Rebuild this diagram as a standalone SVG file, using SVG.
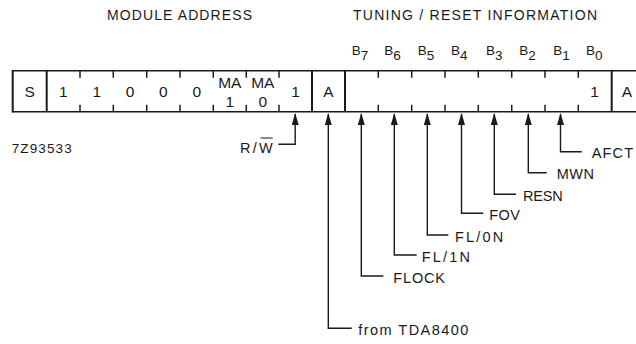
<svg xmlns="http://www.w3.org/2000/svg" width="636" height="344" viewBox="0 0 636 344">
<style>
text{font-family:"Liberation Sans",Arial,sans-serif;fill:#1a1a1a}
.hdr{font-size:14px}
.cell{font-size:15.5px;text-anchor:middle}
.bl{font-size:13.5px}
.code{font-size:13.5px}
.lbl{font-size:14.5px}
.ln{stroke:#1a1a1a;stroke-width:1.6;fill:none}
.div{stroke:#1a1a1a;stroke-width:2;fill:none}
.tk{stroke:#1a1a1a;stroke-width:1.5;fill:none}
.con{stroke:#1a1a1a;stroke-width:1.4;fill:none;marker-end:url(#ah)}
</style>
<defs>
<marker id="ah" viewBox="0 0 12 7" refX="11" refY="3.5" markerWidth="12" markerHeight="7" markerUnits="userSpaceOnUse" orient="auto">
<path d="M0,0 L12,3.5 L0,7 Z" fill="#1a1a1a"/>
</marker>
</defs>
<rect width="636" height="344" fill="#fff"/>

<g id="headers">
<text class="hdr" x="107" y="19.5" textLength="145" lengthAdjust="spacing">MODULE ADDRESS</text>
<text class="hdr" x="353" y="19.5" textLength="244" lengthAdjust="spacing">TUNING / RESET INFORMATION</text>
</g>

<g id="bit-labels">
<text class="bl" x="351.7" y="54.5">B<tspan dy="5.5">7</tspan></text>
<text class="bl" x="384.3" y="54.5">B<tspan dy="5.5">6</tspan></text>
<text class="bl" x="417.7" y="54.5">B<tspan dy="5.5">5</tspan></text>
<text class="bl" x="451" y="54.5">B<tspan dy="5.5">4</tspan></text>
<text class="bl" x="486" y="54.5">B<tspan dy="5.5">3</tspan></text>
<text class="bl" x="519.3" y="54.5">B<tspan dy="5.5">2</tspan></text>
<text class="bl" x="553.3" y="54.5">B<tspan dy="5.5">1</tspan></text>
<text class="bl" x="586" y="54.5">B<tspan dy="5.5">0</tspan></text>
</g>

<g id="register">
<path class="ln" d="M12.7,70.7 H636 M12.7,111.7 H636"/>
<path class="div" d="M12.7,70 V112.4 M46.7,70.7 V111.7 M312,70.7 V111.7 M345,70.7 V111.7 M611.7,70.7 V111.7"/>
<path class="tk" d="M80,70.7 v7 M80,111.7 v-7 M113.3,70.7 v7 M113.3,111.7 v-7 M146.7,70.7 v7 M146.7,111.7 v-7 M180,70.7 v7 M180,111.7 v-7 M213.3,70.7 v7 M213.3,111.7 v-7 M246.3,70.7 v7 M246.3,111.7 v-7 M279,70.7 v7 M279,111.7 v-7 M378.3,70.7 v7 M378.3,111.7 v-7 M411.7,70.7 v7 M411.7,111.7 v-7 M445,70.7 v7 M445,111.7 v-7 M478.3,70.7 v7 M478.3,111.7 v-7 M511.7,70.7 v7 M511.7,111.7 v-7 M545,70.7 v7 M545,111.7 v-7 M578.3,70.7 v7 M578.3,111.7 v-7"/>
<text class="cell" x="29.7" y="97.3">S</text>
<text class="cell" x="63.3" y="97.3">1</text>
<text class="cell" x="96.7" y="97.3">1</text>
<text class="cell" x="130" y="97.3">0</text>
<text class="cell" x="163.3" y="97.3">0</text>
<text class="cell" x="196.7" y="97.3">0</text>
<text class="cell" x="229.8" y="88.3">MA</text>
<text class="cell" x="229.8" y="106.5">1</text>
<text class="cell" x="262.8" y="88.3">MA</text>
<text class="cell" x="262.8" y="106.5">0</text>
<text class="cell" x="295.5" y="97.3">1</text>
<text class="cell" x="328.3" y="97.3">A</text>
<text class="cell" x="594.5" y="97.3">1</text>
<text class="cell" x="627" y="97.3">A</text>
</g>

<g id="code">
<text class="code" x="11.7" y="153.3" textLength="60" lengthAdjust="spacing">7Z93533</text>
</g>

<g id="connectors">
<path class="con" d="M278.3,144.3 H295.2 V114"/>
<path class="con" d="M351.7,328.3 H328.3 V114"/>
<path class="con" d="M383.3,276 H361.3 V114"/>
<path class="con" d="M416.7,255 H394.3 V114"/>
<path class="con" d="M448.3,235 H427.3 V114"/>
<path class="con" d="M483.3,213.3 H461.5 V114"/>
<path class="con" d="M516,194.3 H494.3 V114"/>
<path class="con" d="M546.7,172.7 H528.3 V114"/>
<path class="con" d="M581.7,151.7 H560.5 V114"/>
</g>

<g id="label-rw">
<text class="lbl" x="240" y="153.3" textLength="32.7" lengthAdjust="spacing">R/W</text>
<line x1="260.5" y1="138" x2="272.7" y2="138" stroke="#1a1a1a" stroke-width="1"/>
</g>
<g id="label-afct"><text class="lbl" x="591.7" y="158.3" textLength="41.3" lengthAdjust="spacing">AFCT</text></g>
<g id="label-mwn"><text class="lbl" x="556.7" y="179.2" textLength="37.3" lengthAdjust="spacing">MWN</text></g>
<g id="label-resn"><text class="lbl" x="523" y="200.8" textLength="39.7" lengthAdjust="spacing">RESN</text></g>
<g id="label-fov"><text class="lbl" x="489.3" y="219.8" textLength="30.7" lengthAdjust="spacing">FOV</text></g>
<g id="label-fl0n"><text class="lbl" x="455" y="241.5" textLength="48.3" lengthAdjust="spacing">FL/0N</text></g>
<g id="label-fl1n"><text class="lbl" x="421.7" y="261.5" textLength="48.3" lengthAdjust="spacing">FL/1N</text></g>
<g id="label-flock"><text class="lbl" x="393.3" y="282.5" textLength="51.7" lengthAdjust="spacing">FLOCK</text></g>
<g id="label-tda"><text class="lbl" x="358.3" y="334.8" textLength="110" lengthAdjust="spacing">from TDA8400</text></g>
</svg>
